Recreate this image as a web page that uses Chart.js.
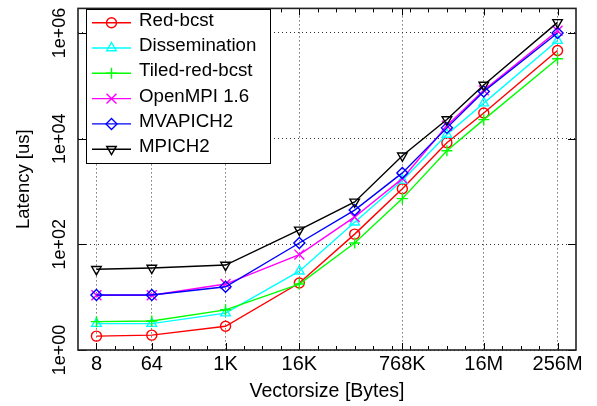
<!DOCTYPE html>
<html><head><meta charset="utf-8">
<script src="https://cdn.jsdelivr.net/npm/chart.js@4/dist/chart.umd.min.js"></script>
<style>html,body{margin:0;padding:0;background:#fff}#wrap{width:597px;height:406px}</style>
</head><body><div id="wrap"><canvas id="c" width="597" height="406"></canvas></div>
<script>
// ---- data ----
const vectorSizes = [8, 64, 1024, 16384, 131072, 786432, 4194304, 16777216, 268435456];
const xTickValues = [8, 64, 1024, 16384, 786432, 16777216, 268435456];
const xTickLabels = ['8', '64', '1K', '16K', '768K', '16M', '256M'];
const yTickValues = [1, 100, 10000, 1000000];
const yTickLabels = ['1e+00', '1e+02', '1e+04', '1e+06'];
const seriesNames = ['Red-bcst', 'Dissemination', 'Tiled-red-bcst', 'OpenMPI 1.6', 'MVAPICH2', 'MPICH2'];
const redBcst       = [1.83, 1.91, 2.81, 18.5, 156, 1130, 8400, 30600, 467000];
const dissemination = [3.16, 3.16, 4.98, 31, 262, 1620, 12000, 47000, 718000];
const tiledRedBcst  = [3.44, 3.53, 5.76, 17.7, 106, 733, 5890, 22900, 326000];
const openMPI       = [10.9, 10.9, 17.7, 64, 330, 1750, 17500, 82000, 1100000];
const mvapich2      = [11.0, 11.0, 15.7, 106, 445, 2250, 16000, 78000, 1000000];
const mpich2        = [33.7, 35.6, 40.5, 188, 636, 4750, 23000, 103500, 1590000];

const seriesValues = [redBcst, dissemination, tiledRedBcst, openMPI, mvapich2, mpich2];
const seriesColors = ['#ff0000', '#00ffff', '#00ff00', '#ff00ff', '#0000ff', '#000000'];
const seriesStyles = [
  {pointStyle: 'circle', radius: 5, rotation: 0},
  {pointStyle: 'triangle', radius: 5.5, rotation: 0},
  {pointStyle: 'cross', radius: 5.5, rotation: 0},
  {pointStyle: 'crossRot', radius: 7, rotation: 0},
  {pointStyle: 'rectRot', radius: 5.5, rotation: 0},
  {pointStyle: 'triangle', radius: 5.5, rotation: 180}
];

const FONT = '"Liberation Sans", Arial, Helvetica, sans-serif';

const datasets = seriesNames.map((name, i) => ({
  label: name,
  data: vectorSizes.map((x, j) => ({x: x, y: seriesValues[i][j]})),
  borderColor: seriesColors[i],
  backgroundColor: 'transparent',
  pointBorderColor: seriesColors[i],
  pointBackgroundColor: 'transparent',
  borderWidth: 1.4,
  pointBorderWidth: 1.4,
  pointStyle: seriesStyles[i].pointStyle,
  pointRadius: seriesStyles[i].radius,
  pointRotation: seriesStyles[i].rotation,
  tension: 0,
  fill: false,
  order: seriesNames.length - i
}));

const decor = {
  id: 'decor',
  afterDatasetsDraw(chart) {
    const {ctx, chartArea: a, scales: {x, y}} = chart;
    ctx.save();
    ctx.strokeStyle = '#000';
    ctx.lineWidth = 1;
    ctx.beginPath();
    for (let e = 3; e <= 28; e++) {
      const v = Math.pow(2, e);
      if (xTickValues.includes(v)) continue;
      const px = Math.round(x.getPixelForValue(v)) + 0.5;
      ctx.moveTo(px, a.bottom); ctx.lineTo(px, a.bottom - 4);
      ctx.moveTo(px, a.top); ctx.lineTo(px, a.top + 4);
    }
    xTickValues.forEach(v => {
      const px = Math.round(x.getPixelForValue(v)) + 0.5;
      ctx.moveTo(px, a.bottom); ctx.lineTo(px, a.bottom - 7);
      ctx.moveTo(px, a.top); ctx.lineTo(px, a.top + 7);
    });
    yTickValues.forEach(v => {
      const py = Math.round(y.getPixelForValue(v)) + 0.5;
      ctx.moveTo(a.left, py); ctx.lineTo(a.left + 8, py);
      ctx.moveTo(a.right, py); ctx.lineTo(a.right - 8, py);
    });
    ctx.stroke();
    ctx.strokeStyle = '#222';
    ctx.lineWidth = 1.6;
    ctx.strokeRect(a.left, a.top, a.right - a.left, a.bottom - a.top);
    ctx.restore();
  },
  afterDraw(chart) {
    const ctx = chart.ctx;
    ctx.save();
    const bx = 86, by = 9, bw = 184, bh = 154;
    ctx.fillStyle = '#fff';
    ctx.fillRect(bx, by, bw, bh);
    ctx.strokeStyle = '#000';
    ctx.lineWidth = 1;
    ctx.strokeRect(bx + 0.5, by + 0.5, bw, bh);
    chart.data.datasets.forEach((ds, i) => {
      const yy = 22.7 + i * 25.3;
      ctx.strokeStyle = ds.borderColor;
      ctx.lineWidth = ds.borderWidth;
      ctx.beginPath();
      ctx.moveTo(92, yy); ctx.lineTo(131, yy);
      ctx.stroke();
      ctx.fillStyle = 'rgba(0,0,0,0)';
      ctx.strokeStyle = ds.pointBorderColor;
      ctx.lineWidth = ds.pointBorderWidth;
      Chart.helpers.drawPoint(ctx, {pointStyle: ds.pointStyle, rotation: ds.pointRotation, radius: ds.pointRadius, borderWidth: ds.pointBorderWidth}, 111.5, yy);
      ctx.fillStyle = '#000';
      ctx.font = '18.7px ' + FONT;
      ctx.textBaseline = 'middle';
      ctx.textAlign = 'left';
      ctx.fillText(ds.label, 139, yy - 2);
    });
    ctx.restore();
  }
};

new Chart(document.getElementById('c'), {
  type: 'line',
  data: {datasets: datasets},
  options: {
    responsive: false,
    animation: false,
    devicePixelRatio: 1,
    layout: {padding: {left: 0, right: 21, top: 4, bottom: 0}},
    plugins: {legend: {display: false}, tooltip: {enabled: false}},
    scales: {
      x: {
        type: 'logarithmic',
        min: 4,
        max: 536870912,
        afterBuildTicks: s => { s.ticks = xTickValues.map(v => ({value: v})); },
        afterFit: s => { s.height = 56; },
        ticks: {
          autoSkip: false, minRotation: 0, maxRotation: 0, padding: 2.5,
          color: '#000', font: {family: FONT, size: 20},
          callback: (v, i) => xTickLabels[i]
        },
        grid: {color: '#333', lineWidth: 1, drawTicks: false},
        border: {display: false, dash: [1, 3]},
        title: {display: true, text: 'Vectorsize [Bytes]', color: '#000', font: {family: FONT, size: 19.5}, padding: {top: 0, bottom: 3}}
      },
      y: {
        type: 'logarithmic',
        min: 1,
        max: 2920000,
        afterBuildTicks: s => { s.ticks = yTickValues.map(v => ({value: v})); },
        afterFit: s => { s.width = 78; },
        ticks: {
          autoSkip: false, minRotation: 90, maxRotation: 90, crossAlign: 'center', padding: -7,
          color: '#000', font: {family: FONT, size: 18},
          callback: (v, i) => yTickLabels[i]
        },
        grid: {color: '#333', lineWidth: 1, drawTicks: false},
        border: {display: false, dash: [1, 3]},
        title: {display: true, text: 'Latency [us]', color: '#000', font: {family: FONT, size: 18.5}, padding: {top: 13, bottom: 0}}
      }
    }
  },
  plugins: [decor]
});
</script>
</body></html>
